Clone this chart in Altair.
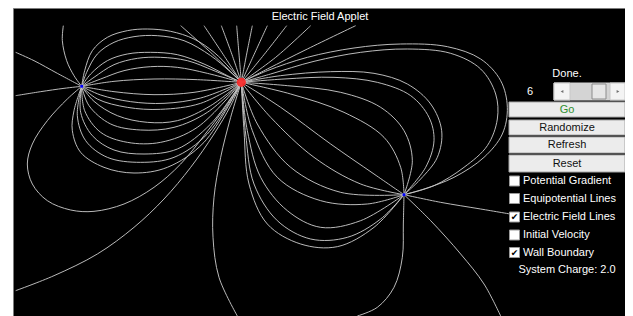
import altair as alt
import pandas as pd

# ---------------- data ----------------
# charges, in screen-pixel coordinates of the applet picture
charge_x = [241.3, 81.7, 404.0]
charge_y = [82.3, 86.3, 194.7]
charge_kind = ["positive", "negative", "negative"]

# field lines traced from a 3x magnified view (origin of that view at pixel 14, 24)
ZOOM_ORIGIN_X, ZOOM_ORIGIN_Y, ZOOM_FACTOR = 14, 24, 3
L = (203, 187)
R = (682, 175)
B = (1170, 512)
field_lines = [
    # left side, to the walls
    [(5, 85), (60, 110), (130, 148), L],
    [(5, 215), (80, 203), (150, 193), L],
    [(148, 5), (145, 50), (158, 110), (180, 155), L],
    # big outer loop L -> R below
    [L, (160, 225), (100, 290), (55, 360), (40, 420), (55, 480), (100, 530), (170, 558),
     (240, 562), (330, 540), (420, 490), (500, 420), (570, 335), (630, 255), R],
    # loops L -> R above the axis
    [L, (212, 140), (235, 80), (280, 40), (340, 20), (400, 15), (470, 22), (540, 45), (600, 85), (650, 135), R],
    [L, (218, 145), (250, 90), (300, 55), (360, 38), (430, 35), (510, 50), (590, 95), (645, 140), R],
    [L, (230, 150), (280, 110), (340, 90), (410, 85), (490, 92), (570, 120), (640, 155), R],
    [L, (240, 160), (300, 122), (370, 103), (440, 100), (520, 110), (600, 140), R],
    [L, (260, 165), (330, 140), (410, 128), (490, 130), (580, 148), R],
    [L, (300, 172), (420, 165), (550, 167), R],
    # loops L -> R below the axis
    [L, (300, 203), (420, 212), (540, 205), R],
    [L, (260, 213), (350, 233), (450, 238), (560, 222), R],
    [L, (250, 225), (340, 250), (440, 256), (560, 238), R],
    [L, (240, 232), (310, 275), (400, 295), (490, 290), (590, 245), R],
    [L, (225, 245), (290, 300), (380, 318), (480, 310), (580, 265), R],
    [L, (212, 260), (260, 325), (340, 355), (440, 355), (550, 310), R],
    [L, (200, 265), (235, 335), (300, 378), (390, 390), (490, 375), (590, 300), R],
    [L, (190, 275), (215, 350), (280, 400), (380, 415), (480, 400), (580, 330), R],
    [L, (180, 260), (175, 320), (200, 385), (270, 430), (360, 447), (460, 430), (570, 355), R],
    # from bottom-left wall to R
    [(5, 800), (120, 755), (250, 690), (360, 610), (450, 525), (530, 430), (600, 330), (650, 245), R],
    # from R to the top wall
    [R, (595, 90), (500, 5)],
    [R, (628, 92), (570, 5)],
    [R, (654, 92), (622, 5)],
    [R, (675, 90), (668, 5)],
    [R, (698, 90), (715, 5)],
    [R, (720, 92), (760, 5)],
    [R, (750, 92), (818, 5)],
    [R, (785, 100), (890, 5)],
    [R, (760, 135), (880, 75), (1025, 5)],
    # big loops R -> B on the right
    [R, (760, 140), (880, 100), (1020, 72), (1160, 60), (1300, 68), (1400, 105), (1460, 170), (1480, 250),
     (1465, 330), (1410, 400), (1320, 460), (1230, 495), B],
    [R, (770, 150), (900, 112), (1040, 85), (1180, 75), (1310, 88), (1400, 135), (1445, 210), (1450, 285),
     (1420, 365), (1350, 430), (1260, 485), B],
    [R, (800, 155), (950, 143), (1080, 148), (1180, 180), (1250, 240), (1283, 320), (1270, 400), (1220, 465), B],
    [R, (810, 165), (960, 160), (1090, 175), (1190, 215), (1245, 280), (1260, 350), (1235, 430), B],
    [R, (820, 185), (980, 205), (1100, 250), (1170, 320), (1195, 410), B],
    [R, (830, 210), (990, 265), (1110, 340), (1160, 430), B],
    # R -> B across the middle
    [R, (800, 250), (950, 360), (1080, 450), B],
    [R, (770, 280), (900, 400), (1040, 480), B],
    [R, (730, 300), (830, 430), (980, 505), B],
    [R, (715, 320), (790, 460), (920, 530), (1060, 540), B],
    # lower loops R -> B
    [R, (700, 320), (740, 460), (820, 560), (920, 610), (1040, 590), B],
    [R, (695, 330), (720, 480), (790, 590), (890, 645), (1000, 640), (1100, 585), B],
    [R, (690, 320), (705, 480), (760, 600), (860, 660), (970, 668), (1080, 610), B],
    # to the bottom wall
    [R, (650, 280), (620, 400), (600, 520), (597, 640), (615, 760), (670, 876)],
    [B, (1168, 600), (1165, 700), (1140, 790), (1090, 850), (1030, 876)],
    [B, (1250, 590), (1340, 690), (1410, 780), (1460, 876)],
    [B, (1280, 535), (1400, 555), (1500, 572)],
]

title_text = "Electric Field Applet"
status_text = "Done."
slider_value = "6"
button_labels = ["Go", "Randomize", "Refresh", "Reset"]
checkbox_labels = ["Potential Gradient", "Equipotential Lines", "Electric Field Lines",
                   "Initial Velocity", "Wall Boundary"]
checkbox_checked = [False, False, True, False, True]
system_charge_text = "System Charge: 2.0"

# ---------------- layout (screen pixels) ----------------
button_y0 = [102, 120, 137, 155]
button_y1 = [117, 135, 153, 172]
checkbox_yc = [181, 198.5, 217, 235, 252.5]

rows = []
for i, line in enumerate(field_lines):
    for j, (zx, zy) in enumerate(line):
        rows.append({"line": i, "order": j,
                     "x": ZOOM_ORIGIN_X + zx / ZOOM_FACTOR,
                     "y": ZOOM_ORIGIN_Y + zy / ZOOM_FACTOR})
lines_df = pd.DataFrame(rows)

charges_df = pd.DataFrame({"x": charge_x, "y": charge_y, "kind": charge_kind})

xs = alt.Scale(domain=[13, 625], nice=False, zero=False)
ys = alt.Scale(domain=[8, 316], nice=False, zero=False, reverse=True)


def X(f="x"):
    return alt.X(f"{f}:Q", scale=xs, axis=None)


def Y(f="y"):
    return alt.Y(f"{f}:Q", scale=ys, axis=None)


FONT = "Liberation Sans"

field = alt.Chart(lines_df).mark_line(
    interpolate="catmull-rom", color="#c4c4c4", strokeWidth=0.95, clip=True
).encode(x=X(), y=Y(), detail="line:N", order="order:Q")

pos = alt.Chart(charges_df[charges_df.kind == "positive"]).mark_circle(
    size=85, color="#ff1c1c", opacity=0.85
).encode(x=X(), y=Y())
neg = alt.Chart(charges_df[charges_df.kind == "negative"]).mark_square(
    size=8, color="#0000ff", opacity=1
).encode(x=X(), y=Y())

title = alt.Chart(pd.DataFrame({"x": [320], "y": [17], "t": [title_text]})).mark_text(
    font=FONT, fontSize=11, color="white", align="center", baseline="middle"
).encode(x=X(), y=Y(), text="t:N")

status = alt.Chart(pd.DataFrame({"x": [567, 530], "y": [73.5, 91.5], "t": [status_text, slider_value]})).mark_text(
    font=FONT, fontSize=11, color="white", align="center", baseline="middle"
).encode(x=X(), y=Y(), text="t:N")

# scrollbar
sb_df = pd.DataFrame({
    "x": [554, 554, 610, 592], "x2": [625, 570, 625, 606],
    "y": [83, 83, 83, 84], "y2": [100, 100, 100, 99],
    "part": ["track", "left", "right", "thumb"],
})
sb = alt.Chart(sb_df).mark_rect(strokeWidth=1).encode(
    x=X(), x2="x2:Q", y=Y(), y2="y2:Q",
    fill=alt.Fill("part:N", scale=alt.Scale(domain=["track", "left", "right", "thumb"],
                                              range=["#d4d4d4", "#f4f4f4", "#f4f4f4", "#e6e6e6"]), legend=None),
    stroke=alt.Stroke("part:N", scale=alt.Scale(domain=["track", "left", "right", "thumb"],
                                                  range=["#d4d4d4", "#c8c8c8", "#c8c8c8", "#8c8c8c"]), legend=None),
)
arrows = alt.Chart(pd.DataFrame({"x": [562, 618], "y": [91.5, 91.5], "s": ["triangle-left", "triangle-right"]})).mark_point(
    filled=True, size=10, color="#707070", opacity=1
).encode(x=X(), y=Y(), shape=alt.Shape("s:N", scale=None))

btn_df = pd.DataFrame({"x": [509] * 4, "x2": [625] * 4, "y": button_y0, "y2": button_y1,
                       "label": button_labels, "xc": [567] * 4,
                       "yc": [(a + b) / 2 for a, b in zip(button_y0, button_y1)],
                       "col": ["#2f8f2f", "#111111", "#111111", "#111111"]})
buttons = alt.Chart(btn_df).mark_rect(fill="#ececec", stroke="#a6a6a6", strokeWidth=1).encode(
    x=X(), x2="x2:Q", y=Y(), y2="y2:Q")
btn_text = alt.Chart(btn_df).mark_text(font=FONT, fontSize=11, align="center", baseline="middle").encode(
    x=X("xc"), y=Y("yc"), text="label:N", color=alt.Color("col:N", scale=None))

cb_df = pd.DataFrame({"label": checkbox_labels, "checked": checkbox_checked, "yc": checkbox_yc})
cb_df["x"] = 509.5
cb_df["x2"] = 519.5
cb_df["y"] = cb_df.yc - 5
cb_df["y2"] = cb_df.yc + 5
cb_df["tx"] = 523
cb_df["mx"] = 514.5
boxes = alt.Chart(cb_df).mark_rect(fill="white", stroke="#9a9a9a", strokeWidth=1).encode(
    x=X(), x2="x2:Q", y=Y(), y2="y2:Q")
checks = alt.Chart(cb_df[cb_df.checked]).mark_text(
    font="DejaVu Sans", fontSize=9, color="black", align="center", baseline="middle", fontWeight="bold"
).encode(x=X("mx"), y=Y("yc"), text=alt.value("✔"))
cb_text = alt.Chart(cb_df).mark_text(font=FONT, fontSize=11, color="white", align="left", baseline="middle").encode(
    x=X("tx"), y=Y("yc"), text="label:N")
sys_text = alt.Chart(pd.DataFrame({"x": [567], "y": [270], "t": [system_charge_text]})).mark_text(
    font=FONT, fontSize=11, color="white", align="center", baseline="middle"
).encode(x=X(), y=Y(), text="t:N")

chart = alt.layer(
    field, pos, neg, title, status, sb, arrows, buttons, btn_text, boxes, checks, cb_text, sys_text
).properties(
    width=612, height=308,
    padding={"left": 5, "top": 0, "right": 0, "bottom": 0},
    background="white",
    autosize=alt.AutoSizeParams(type="none"),
).configure_view(fill="black", stroke="#7c7c7c", strokeWidth=1)

chart.save("out.html", embed_options={"renderer": "svg", "actions": False})
